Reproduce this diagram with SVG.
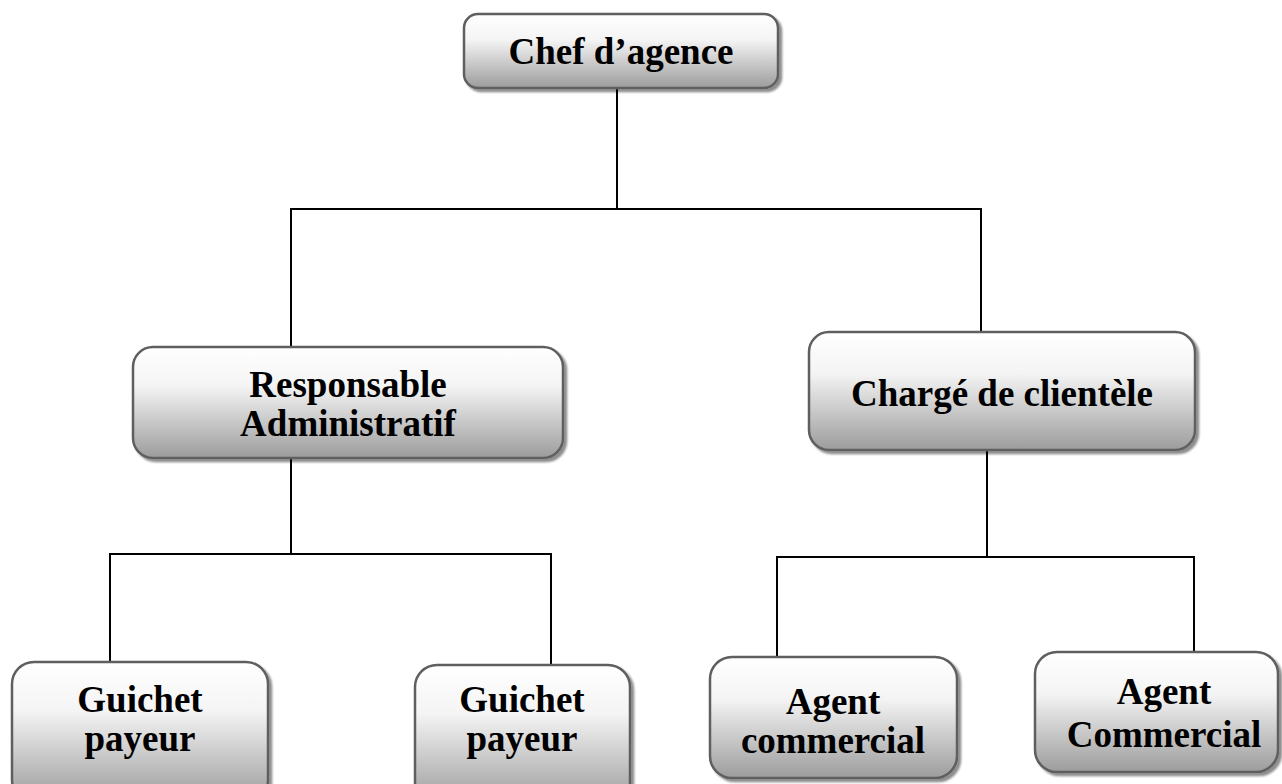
<svg xmlns="http://www.w3.org/2000/svg" width="1282" height="784" viewBox="0 0 1282 784">
<defs>
<linearGradient id="g" x1="0" y1="0" x2="0" y2="1">
<stop offset="0" stop-color="#ffffff"/>
<stop offset="0.35" stop-color="#f4f4f4"/>
<stop offset="1" stop-color="#9c9c9c"/>
</linearGradient>
<filter id="sh" x="-10%" y="-10%" width="120%" height="130%">
<feGaussianBlur in="SourceAlpha" stdDeviation="1.2"/>
<feOffset dx="3" dy="3" result="o"/>
<feComponentTransfer><feFuncA type="linear" slope="0.45"/></feComponentTransfer>
<feMerge><feMergeNode/><feMergeNode in="SourceGraphic"/></feMerge>
</filter>
</defs>
<style>
.box{fill:url(#g);stroke:#5f5f5f;stroke-width:2.5;filter:url(#sh)}
.t{font-family:"Liberation Serif","Times New Roman",serif;font-weight:bold;font-size:37px;fill:#000;text-anchor:middle}
.c{fill:none;stroke:#000;stroke-width:2}
</style>
<rect width="1282" height="784" fill="#fff"/>
<g id="connectors">
<path class="c" d="M617 88V209M291 347V209H981V332"/>
<path class="c" d="M291 458V554M110 662V554H551V665"/>
<path class="c" d="M987 450V557M777 657V557H1194V652"/>
</g>
<g id="chef">
<rect class="box" x="464" y="14" width="314" height="74" rx="14"/>
<text class="t" x="621" y="64">Chef d’agence</text>
</g>
<g id="responsable">
<rect class="box" x="133" y="347" width="430" height="111" rx="20"/>
<text class="t"><tspan x="348" y="397">Responsable</tspan><tspan x="348" y="436">Administratif</tspan></text>
</g>
<g id="charge">
<rect class="box" x="809" y="332" width="386" height="118" rx="20"/>
<text class="t" x="1002" y="406">Chargé de clientèle</text>
</g>
<g id="guichet1">
<rect class="box" x="12" y="662" width="256" height="140" rx="22"/>
<text class="t"><tspan x="140" y="712">Guichet</tspan><tspan x="140" y="751">payeur</tspan></text>
</g>
<g id="guichet2">
<rect class="box" x="415" y="665" width="215" height="140" rx="22"/>
<text class="t"><tspan x="522" y="712">Guichet</tspan><tspan x="522" y="751">payeur</tspan></text>
</g>
<g id="agent1">
<rect class="box" x="710" y="657" width="247" height="121" rx="22"/>
<text class="t"><tspan x="833" y="714">Agent</tspan><tspan x="833" y="753">commercial</tspan></text>
</g>
<g id="agent2">
<rect class="box" x="1035" y="652" width="243" height="120" rx="22"/>
<text class="t"><tspan x="1164" y="704">Agent</tspan><tspan x="1164" y="747">Commercial</tspan></text>
</g>
</svg>
